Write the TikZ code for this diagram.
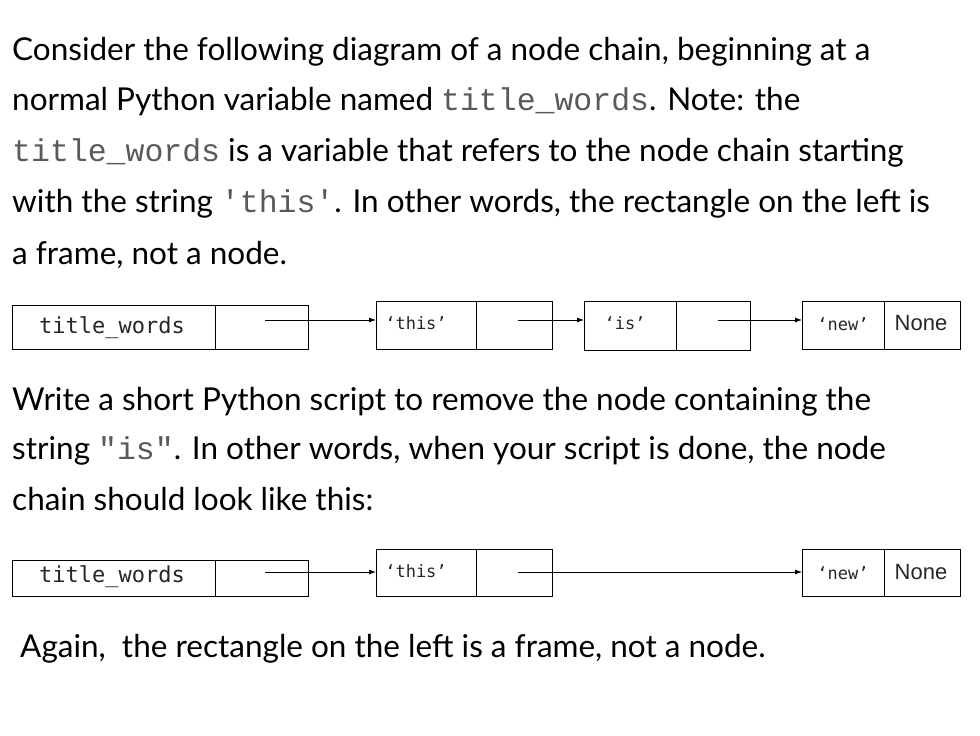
\documentclass[tikz,border=0pt]{standalone}
\usepackage{fontspec}
\setmainfont{Lato}
\setmonofont{Liberation Mono}
\newfontfamily\boxmono{DejaVu Sans Mono}
\newfontfamily\boxsans{Liberation Sans}
\usetikzlibrary{arrows.meta}
\tikzset{
  line/.style={anchor=base west, inner sep=0pt, font=\fontsize{31.5}{36}\selectfont},
  lbl/.style={font=\boxmono\fontsize{17}{20}\selectfont, inner sep=0pt, text=black!85},
  link/.style={thick, -{Latex[length=7pt,width=5pt]}}
}
\newcommand{\code}[1]{{\ttfamily\color{black!65}#1}}
\begin{document}
\begin{tikzpicture}[x=1pt,y=-1pt]
\useasboundingbox (0,0) rectangle (980,736);
% text
\node[line] (t1) at (12,60) {Consider the following diagram of a node chain, beginning at a};
\node[line] (t2) at (12,110) {normal Python variable named \code{title\_words}. Note: the};
\node[line] (t3) at (12,161) {\code{title\_words} is a variable that refers to the node chain starting};
\node[line] (t4) at (12,212) {with the string \code{'this'}. In other words, the rectangle on the left is};
\node[line] (t5) at (12,264) {a frame, not a node.};
\node[line] (t6) at (12,410) {Write a short Python script to remove the node containing the};
\node[line] (t7) at (12,459) {string \code{"is"}. In other words, when your script is done, the node};
\node[line] (t8) at (12,510) {chain should look like this:};
\node[line] (t9) at (20,657) {Again,\ \ the rectangle on the left is a frame, not a node.};
% first chain
\draw[thick] (12,305) rectangle (215,349) (215,305) rectangle (308,349);
\node[lbl, font=\boxmono\fontsize{22}{26}\selectfont] (fa) at (112,328) {title\_words};
\coordinate (fa0) at (265,320);
\draw[thick] (376,301) rectangle (476,349) (476,301) rectangle (552,349);
\node[lbl] (na) at (416,323) {‘this’};
\coordinate (na0) at (518,320);
\draw[thick] (584,301) rectangle (676,350) (676,301) rectangle (750,350);
\node[lbl] (nb) at (625,323) {‘is’};
\coordinate (nb0) at (718,320);
\draw[thick] (802,301) rectangle (884,349) (884,301) rectangle (960,349);
\node[lbl, font=\boxmono\fontsize{17}{20}\selectfont] (nc) at (843,324) {‘new’};
\node[lbl, font=\boxsans\fontsize{22}{26}\selectfont] (nn) at (921,323) {None};
\draw[link] (fa0) -- (376,320);
\draw[link] (na0) -- (584,320);
\draw[link] (nb0) -- (802,320);
% second chain
\draw[thick] (12,560) rectangle (215,596) (215,560) rectangle (308,596);
\node[lbl, font=\boxmono\fontsize{22}{26}\selectfont] (fb) at (112,577) {title\_words};
\coordinate (fb0) at (265,572);
\draw[thick] (376,549) rectangle (476,596) (476,549) rectangle (552,596);
\node[lbl] (ma) at (416,571) {‘this’};
\coordinate (ma0) at (518,572);
\draw[thick] (802,549) rectangle (884,596) (884,549) rectangle (960,596);
\node[lbl, font=\boxmono\fontsize{17}{20}\selectfont] (mc) at (843,573) {‘new’};
\node[lbl, font=\boxsans\fontsize{22}{26}\selectfont] (mn) at (921,572) {None};
\draw[link] (fb0) -- (376,572);
\draw[link] (ma0) -- (802,572);
\end{tikzpicture}
\end{document}
